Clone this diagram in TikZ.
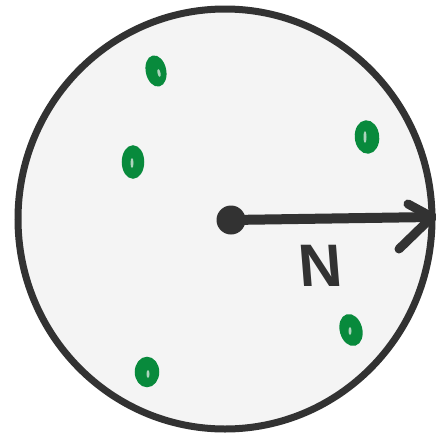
\documentclass[tikz,border=0pt]{standalone}
\usepackage{fontspec}
\newfontfamily\labelfont{Liberation Sans}
\definecolor{ink}{RGB}{50,50,50}
\definecolor{disc}{RGB}{244,244,244}
\definecolor{seed}{RGB}{8,138,60}
\tikzset{
  blob/.style={draw=seed, fill=seed, line width=2.5pt},
  hole/.style={fill=disc!70!seed},
  stroke/.style={draw=ink, line cap=round, line join=round},
}
\begin{document}
\begin{tikzpicture}[x=1pt,y=-1pt]
\useasboundingbox (0,0) rectangle (436,434);
\fill[white] (0,0) rectangle (436,434);
% disc
\draw[ink, line width=7pt, fill=disc] (225,219) ellipse [x radius=207, y radius=210];
% green seeds
\draw[blob, rotate around={12:(156,71)}] (156,71) ellipse [x radius=9, y radius=14.5];
\fill[hole, rotate around={12:(159,73)}] (159,73) ellipse [x radius=1.5, y radius=4];
\draw[blob] (133,162) ellipse [x radius=10, y radius=15.5];
\fill[hole] (132,163) ellipse [x radius=1.5, y radius=5];
\draw[blob, rotate around={5:(367,137)}] (367,137) ellipse [x radius=11, y radius=15.5];
\fill[hole] (365,137) ellipse [x radius=1.5, y radius=6];
\draw[blob, rotate around={15:(351,330)}] (351,330) ellipse [x radius=10, y radius=15];
\fill[hole] (350,331) ellipse [x radius=1.5, y radius=4];
\draw[blob] (147,372) ellipse [x radius=11, y radius=14];
\fill[hole] (148,374) ellipse [x radius=1.5, y radius=4];
% centre dot and arrow
\node[circle, fill=ink, minimum width=29pt, minimum height=29pt, inner sep=0pt] (ctr) at (231,220) {};
\coordinate (tip) at (432,217);
\draw[stroke, line width=10pt] (ctr.center) -- (tip);
\draw[stroke, line width=9pt] (408,204) -- (tip) -- (399,249);
% label
\node[text=ink, inner sep=0pt, xslant=-0.08] (N) at (321,266) {\labelfont\bfseries\fontsize{60}{60}\selectfont N};
\end{tikzpicture}
\end{document}
